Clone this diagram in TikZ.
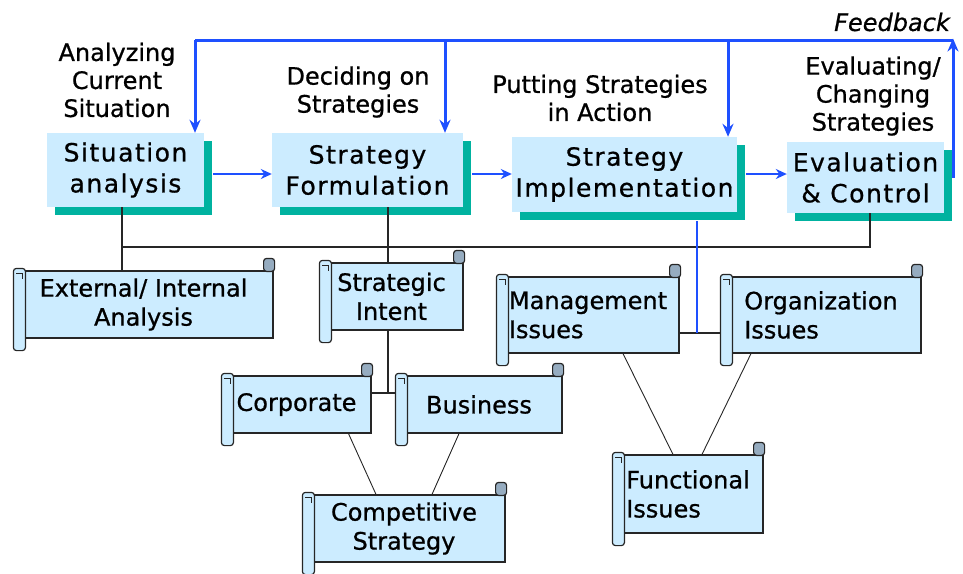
\documentclass[tikz,border=0pt]{standalone}
\usepackage{fontspec}
\setmainfont{DejaVu Sans}[FakeBold=0.8]
\usetikzlibrary{calc,arrows.meta,shadows}
\definecolor{boxblue}{RGB}{204,236,255}
\definecolor{shadeteal}{RGB}{0,178,160}
\definecolor{flowblue}{RGB}{30,80,255}
\definecolor{curlgray}{RGB}{150,172,192}
\tikzset{
  topbox/.style={fill=boxblue, inner sep=0pt, align=center,
    general shadow={fill=shadeteal, shadow xshift=8pt, shadow yshift=-8pt},
    font=\fontsize{25}{31}\selectfont\addfontfeature{LetterSpace=6}},
  scroll/.style={draw=black!85, line width=1.2pt, fill=boxblue, inner sep=0pt,
    align=center, font=\fontsize{24}{29}\selectfont},
  lbl/.style={align=center, font=\fontsize{24}{28}\selectfont},
  fbline/.style={draw=flowblue, line width=3pt},
  flowline/.style={draw=flowblue, line width=2pt, -{Stealth[length=11pt,width=10pt]}},
  link/.style={draw=black!85, line width=1.5pt},
  thinlink/.style={draw=black!85, line width=0.9pt},
}
\begin{document}
\begin{tikzpicture}[x=1pt,y=-1pt]
      \useasboundingbox (0,0) rectangle (963,573);
      \node[topbox, minimum width=157pt, minimum height=74pt] (sit) at (125.5,170) {Situation\\analysis};
      \node[topbox, minimum width=191pt, minimum height=74pt] (form) at (367.5,170) {Strategy\\Formulation};
      \node[topbox, minimum width=225pt, minimum height=75pt] (impl) at (624.5,174.5) {Strategy\\Implementation};
      \node[topbox, minimum width=157pt, minimum height=71pt] (eval) at (865.5,177.5) {Evaluation\\\& Control};
      \node[lbl] (lab1) at (117,80) {Analyzing\\Current\\Situation};
      \node[lbl] (lab2) at (358,92) {Deciding on\\Strategies};
      \node[lbl] (lab3) at (600,98) {Putting Strategies\\in Action};
      \node[lbl] (lab4) at (873,96) {Evaluating/\\Changing\\Strategies};
      \node[lbl, font=\fontsize{24}{28}\selectfont\itshape] (fb) at (892,22) {Feedback};
      \node[scroll, minimum width=259pt, minimum height=67pt] (ext) at (143.5,304.5) {External/ Internal\\Analysis};
      \node[scroll, minimum width=143pt, minimum height=67pt] (intent) at (391.5,296.5) {Strategic\\Intent};
      \node[scroll, minimum width=149pt, minimum height=57pt] (corp) at (296.5,404.5) {Corporate};
      \node[scroll, minimum width=166pt, minimum height=57pt] (bus) at (479,404.5) {Business};
      \node[scroll, minimum width=202pt, minimum height=67pt] (comp) at (404,528.5) {Competitive\\Strategy};
      \node[scroll, align=left, minimum width=182pt, minimum height=76pt] (mgmt) at (588,315) {Management\\Issues};
      \node[scroll, align=left, minimum width=200pt, minimum height=76pt] (org) at (821,315) {Organization\\Issues};
      \node[scroll, align=left, minimum width=150pt, minimum height=78pt] (func) at (688,494) {Functional\\Issues};
      \foreach \s in {ext,intent,corp,bus,comp,mgmt,org,func} {
        \draw[scroll, rounded corners=3pt] ($(\s.north west)+(0,-2)$) rectangle ($(\s.south west)+(12,12)$);
        \draw[black!85, line width=0.8pt] ($(\s.north west)+(3,3)$) -- ($(\s.north west)+(9,3)$) -- ($(\s.north west)+(9,9)$);
        \draw[scroll, fill=curlgray, rounded corners=3pt] ($(\s.north east)+(-10,1)$) rectangle ($(\s.north east)+(1,-12)$);
      }
      \coordinate (busL) at (122,247);
      \coordinate (busR) at (870,247);
      \coordinate (drop) at (388,247);
      \coordinate (split) at (388,393);
      \coordinate (mid) at (697,333);
      \coordinate (row) at (0,174);
      \coordinate (fbL) at (195,40);
      \coordinate (fbM) at (445,40);
      \coordinate (fbN) at (728,40);
      \coordinate (fbR) at (953,40);
      \begin{scope}[link]
        \draw (sit.south -| busL) -- (busL) -- (busR) -- (eval.south -| busR);
        \draw (busL) -- (ext.north -| busL);
        \draw (form.south -| drop) -- (intent.north -| drop);
        \draw (intent.south -| split) -- (split);
        \draw (corp.east |- split) -- (bus.west |- split);
        \draw (mgmt.east |- mid) -- (org.west |- mid);
      \end{scope}
      \begin{scope}[thinlink]
        \draw ($(corp.south)+(52,0)$) -- ($(comp.north)+(-28,0)$);
        \draw ($(bus.south)+(-20,0)$) -- ($(comp.north)+(28,0)$);
        \draw ($(mgmt.south)+(35,0)$) -- ($(func.north)+(-15,0)$);
        \draw ($(org.south)+(-70,0)$) -- ($(func.north)+(14,0)$);
      \end{scope}
      \draw[draw=flowblue, line width=1.5pt] ($(impl.south -| mid)+(0,9)$) -- (mid);
      \draw[flowline] ($(sit.east |- row)+(9,0)$) -- (form.west |- row);
      \draw[flowline] ($(form.east |- row)+(9,0)$) -- (impl.west |- row);
      \draw[flowline] ($(impl.east |- row)+(9,0)$) -- (eval.west |- row);
      \draw[fbline] (fbL) -- (fbR);
      \draw[fbline, -{Stealth[length=13pt,width=11pt]}] (fbL) -- (sit.north -| fbL);
      \draw[fbline, -{Stealth[length=13pt,width=11pt]}] (fbM) -- (form.north -| fbM);
      \draw[fbline, -{Stealth[length=13pt,width=11pt]}] (fbN) -- (impl.north -| fbN);
      \draw[fbline, -{Stealth[length=13pt,width=11pt]}] (eval.east -| fbR) -- ($(fbR)+(0,-1.5)$);
    \end{tikzpicture}
\end{document}
